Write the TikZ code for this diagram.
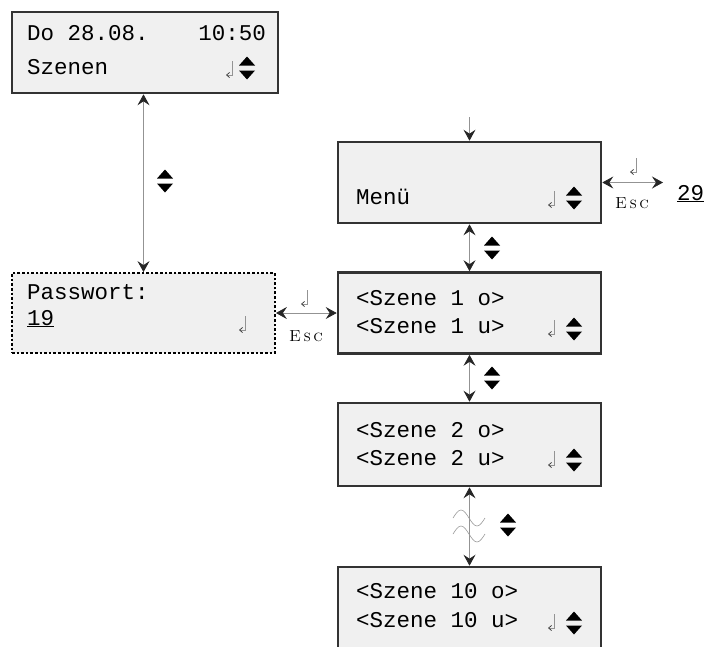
\documentclass[tikz,border=0pt]{standalone}
\usepackage{fontspec}
\newfontfamily\lcdfont{Liberation Mono}
\usetikzlibrary{arrows.meta}
\definecolor{lcdbg}{HTML}{F0F0F0}
\definecolor{lcdframe}{HTML}{333333}
\definecolor{tipcol}{HTML}{262626}

\begin{document}
\begin{tikzpicture}[x=1pt, y=-1pt,
    lcd/.style={draw=lcdframe, fill=lcdbg, line width=2.6pt, minimum width=263pt, minimum height=81pt, inner sep=0pt},
    lcdtxt/.style={font=\lcdfont\fontsize{22.5}{24}\selectfont, inner sep=0pt, anchor=base west},
    esc/.style={font=\fontsize{16}{18}\selectfont\scshape, inner sep=0pt},
    arr/.style={draw=gray!85, line width=0.8pt},
    both/.style={arr, arrows={Stealth[length=11pt, width=12pt, inset=4pt, color=tipcol]-Stealth[length=11pt, width=12pt, inset=4pt, color=tipcol]}},
    fwd/.style={arr, arrows={-Stealth[length=11pt, width=12pt, inset=4pt, color=tipcol]}},
    wave/.style={draw=gray!80, line width=0.6pt},
    updown/.pic={
        \fill[black] (-8,-2.5) -- (8,-2.5) -- (0,-11.5) -- cycle;
        \fill[black] (-8,2.5) -- (8,2.5) -- (0,11.5) -- cycle;
    },
    enter/.pic={
        \draw[gray!85, line width=0.7pt, -{Straight Barb[length=3pt, width=5pt, color=black!80]}] (0,-7) -- (0,7) -- (-6,7);
    }
]
\useasboundingbox (0,0) rectangle (706,646);
\clip (0,0) rectangle (706,646);

% Start screen
\node[lcd, minimum width=266pt] (start) at (145,52.5) {};
\node[lcdtxt] (start-date) at (27,40) {Do 28.08.};
\node[lcdtxt, anchor=base east] (start-time) at (266,40) {10:50};
\node[lcdtxt] (start-item) at (27,74) {Szenen};
\pic at (232,68) {enter};
\pic at (247,68) {updown};

% Password screen
\node[lcd, draw=black, dotted, line width=1.8pt, minimum height=80pt] (pass) at (143.5,313) {};
\node[lcdtxt] (pass-title) at (27,299) {Passwort:};
\node[lcdtxt] (pass-code) at (27,325) {\underline{19}};
\pic at (245,323) {enter};

% Menu
\coordinate (in) at (469.5,117);
\node[lcd] (menu) at (469.5,182.5) {};
\node[lcdtxt] (menu-item) at (356,204) {Menü};
\pic at (554,198) {enter};
\pic at (574,198) {updown};

% Scenes
\node[lcd] (sz1) at (469.5,313) {};
\node[lcdtxt] (sz1-o) at (356,305) {<Szene 1 o>};
\node[lcdtxt] (sz1-u) at (356,333) {<Szene 1 u>};
\pic at (554,327) {enter};
\pic at (574,329) {updown};

\node[lcd, minimum height=83pt] (sz2) at (469.5,444.5) {};
\node[lcdtxt] (sz2-o) at (356,437) {<Szene 2 o>};
\node[lcdtxt] (sz2-u) at (356,465) {<Szene 2 u>};
\pic at (554,458) {enter};
\pic at (574,460) {updown};

\node[lcd, minimum height=83pt] (sz10) at (469.5,608.5) {};
\node[lcdtxt] (sz10-o) at (356,598) {<Szene 10 o>};
\node[lcdtxt] (sz10-u) at (356,627) {<Szene 10 u>};
\pic at (554,621) {enter};
\pic at (574,623) {updown};

% Password entry
\coordinate (pin) at (663,182.5);
\node[lcdtxt] (pin-code) at (677,200) {\underline{29}};

% Connections
\draw[both] (start.south -| pass.north) -- (pass.north);
\pic at (165,181) {updown};
\draw[both] (pass.east) -- (sz1.west);
\pic at (307,297) {enter};
\node[esc] (esc-pass) at (306,336) {E\hspace{2.5pt}s\hspace{2.5pt}c};
\draw[fwd] (in) -- (menu.north);
\draw[both] (menu.east) -- (pin);
\pic at (636,165) {enter};
\node[esc] (esc-menu) at (632,203) {E\hspace{2.5pt}s\hspace{2.5pt}c};
\draw[both] (menu.south) -- (sz1.north);
\pic at (492,248) {updown};
\draw[both] (sz1.south) -- (sz2.north);
\pic at (492,378) {updown};
\draw[both] (sz2.south) -- (sz10.north);
\draw[wave] (453,518) sin ++(8,-8) cos ++(8,8) sin ++(8,8) cos ++(8,-8);
\draw[wave] (453,534) sin ++(8,-8) cos ++(8,8) sin ++(8,8) cos ++(8,-8);
\pic at (508,525) {updown};
\end{tikzpicture}
\end{document}
